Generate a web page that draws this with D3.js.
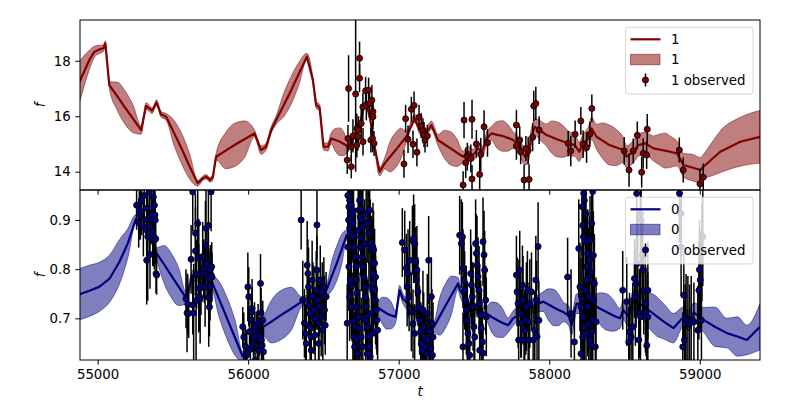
<!DOCTYPE html>
<html><head><meta charset="utf-8">
<script src="https://cdn.jsdelivr.net/npm/d3@7"></script>
<style>body{margin:0;background:#fff} text{font-family:"DejaVu Sans",sans-serif}</style>
</head><body><svg id="c" width="800" height="400"></svg>
<script>
// ---------- data ----------
const xTicks=[55000,56000,57000,58000,59000];
const topYTicks=[14,16,18];
const botYTicks=[0.7,0.8,0.9];
const topLabel="1", botLabel="0";

// model curve rows: [t, mean, half-width of band]
const topCurve=[[54880,17.24,0.75],[54945,18.03,0.35],[54978,18.32,0.2],[55011,18.41,0.15],[55038,18.45,0.12],[55051,18.62,0.1],[55078,17.12,0.12],[55129,16.73,0.5],[55180,16.33,0.6],[55235,15.91,0.5],[55289,15.50,0.15],[55322,16.37,0.12],[55362,16.20,0.1],[55392,16.49,0.1],[55421,16.07,0.1],[55455,15.98,0.12],[55508,15.40,0.45],[55560,14.81,0.55],[55612,14.18,0.45],[55665,13.58,0.1],[55698,13.76,0.08],[55721,13.82,0.08],[55747,13.70,0.08],[55765,13.80,0.1],[55787,14.54,0.12],[55851,14.76,0.65],[55915,14.98,0.78],[55978,15.18,0.65],[56042,15.38,0.12],[56086,14.78,0.15],[56119,14.90,0.12],[56153,15.50,0.12],[56186,15.86,0.15],[56236,16.40,0.42],[56286,16.94,0.5],[56338,17.55,0.4],[56390,18.15,0.12],[56430,17.30,0.12],[56452,16.40,0.12],[56474,16.32,0.12],[56501,14.90,0.12],[56530,14.90,0.15],[56552,15.20,0.2],[56581,15.14,0.42],[56610,15.08,0.5],[56636,15.00,0.42],[56663,14.90,0.15],[56707,15.32,0.12],[56740,15.62,0.12],[56762,16.22,0.12],[56785,16.46,0.12],[56812,15.86,0.12],[56840,14.90,0.12],[56873,14.00,0.15],[56907,14.30,0.2],[56943,14.54,0.55],[56980,14.78,0.63],[57015,15.02,0.55],[57051,15.26,0.2],[57106,15.92,0.15],[57139,15.50,0.15],[57172,15.32,0.15],[57217,15.68,0.15],[57261,15.14,0.2],[57303,14.99,0.5],[57345,14.84,0.6],[57386,14.69,0.5],[57428,14.54,0.2],[57461,14.72,0.2],[57494,14.60,0.2],[57527,14.84,0.2],[57556,14.72,0.2],[57583,15.20,0.22],[57616,15.38,0.25],[57653,15.33,0.48],[57690,15.29,0.55],[57725,15.22,0.48],[57760,15.14,0.3],[57804,14.90,0.3],[57838,14.54,0.3],[57858,14.60,0.3],[57882,15.26,0.3],[57904,15.62,0.3],[57937,15.50,0.35],[57982,15.32,0.4],[58016,15.25,0.58],[58050,15.17,0.63],[58088,15.10,0.58],[58126,15.02,0.45],[58170,14.96,0.4],[58199,14.72,0.35],[58226,15.02,0.35],[58259,15.20,0.4],[58281,15.56,0.4],[58314,15.26,0.45],[58357,15.11,0.65],[58400,14.96,0.72],[58446,14.87,0.65],[58492,14.78,0.45],[58514,14.54,0.4],[58559,14.72,0.4],[58592,14.96,0.4],[58637,15.02,0.4],[58692,14.84,0.45],[58731,14.80,0.55],[58770,14.76,0.63],[58809,14.71,0.55],[58848,14.66,0.45],[58892,14.24,0.42],[58950,14.15,0.48],[59003,14.06,0.45],[59025,14.18,0.45],[59080,14.45,0.6],[59136,14.72,0.75],[59269,15.08,0.88],[59400,15.26,0.95]];
const botCurve=[[54880,0.749,0.052],[54945,0.756,0.052],[55011,0.764,0.05],[55080,0.781,0.048],[55145,0.815,0.045],[55200,0.852,0.03],[55255,0.903,0.008],[55377,0.849,0.01],[55392,0.832,0.012],[55441,0.810,0.038],[55490,0.787,0.045],[55539,0.764,0.038],[55588,0.741,0.012],[55632,0.788,0.01],[55665,0.785,0.01],[55698,0.791,0.01],[55754,0.778,0.012],[55807,0.739,0.036],[55860,0.700,0.042],[55912,0.661,0.036],[55964,0.622,0.01],[56087,0.680,0.012],[56153,0.693,0.043],[56220,0.707,0.05],[56288,0.720,0.043],[56356,0.734,0.01],[56440,0.746,0.01],[56521,0.758,0.012],[56555,0.786,0.03],[56590,0.813,0.035],[56622,0.841,0.03],[56654,0.869,0.01],[56760,0.800,0.01],[56860,0.722,0.012],[56890,0.716,0.027],[56920,0.710,0.032],[56950,0.706,0.027],[56980,0.703,0.012],[57006,0.757,0.01],[57028,0.740,0.01],[57130,0.710,0.01],[57235,0.683,0.012],[57272,0.704,0.038],[57310,0.725,0.045],[57352,0.748,0.038],[57394,0.771,0.012],[57406,0.758,0.012],[57490,0.720,0.012],[57583,0.710,0.015],[57616,0.703,0.03],[57650,0.697,0.035],[57688,0.691,0.03],[57727,0.686,0.015],[57760,0.700,0.015],[57827,0.713,0.015],[57890,0.725,0.015],[57960,0.734,0.02],[57995,0.728,0.032],[58030,0.722,0.037],[58062,0.717,0.032],[58093,0.713,0.02],[58130,0.705,0.02],[58148,0.686,0.02],[58181,0.730,0.02],[58292,0.727,0.02],[58336,0.720,0.032],[58380,0.713,0.037],[58425,0.706,0.032],[58470,0.700,0.02],[58492,0.717,0.02],[58525,0.704,0.02],[58559,0.737,0.02],[58603,0.730,0.025],[58656,0.718,0.035],[58710,0.705,0.04],[58768,0.692,0.035],[58825,0.680,0.03],[58892,0.703,0.02],[58930,0.695,0.02],[58959,0.712,0.02],[59025,0.697,0.025],[59100,0.683,0.04],[59180,0.670,0.03],[59250,0.663,0.04],[59313,0.656,0.03],[59400,0.683,0.047]];

// observed [t, value, error]
const topObserved=[[56658,14.42,0.5],[56663,15.20,0.48],[56667,17.00,1.2],[56685,14.18,0.42],[56685,14.90,0.45],[56696,15.29,0.6],[56714,16.80,2.8],[56722,15.56,0.54],[56722,14.96,0.45],[56729,15.26,0.5],[56740,18.09,0.6],[56740,17.37,0.5],[56733,15.50,0.5],[56751,15.74,0.55],[56763,15.08,0.5],[56762,16.34,0.5],[56785,16.40,0.55],[56780,16.92,0.5],[56807,16.46,0.5],[56800,16.94,0.45],[56822,16.58,0.55],[56815,15.14,0.45],[56829,16.16,0.5],[56829,15.98,0.45],[56826,15.20,0.5],[56836,15.02,0.45],
[57035,14.28,0.5],[57046,15.91,0.5],[57062,15.17,0.5],[57084,16.25,0.45],[57102,16.39,0.5],[57095,14.99,0.5],[57121,14.70,0.5],[57135,15.96,0.45],[57150,15.66,0.45],[57161,15.48,0.45],[57168,15.34,0.45],[57175,15.14,0.45],[57190,15.29,0.4],
[57428,13.52,0.5],[57434,15.86,0.65],[57445,14.32,0.55],[57456,14.54,0.5],[57479,14.48,0.5],[57487,15.89,0.7],[57487,13.74,0.5],[57516,15.00,0.5],[57538,13.90,0.85],[57545,14.62,0.6],[57567,15.62,0.6],[57590,15.04,0.5],
[57782,15.68,0.55],[57782,14.93,0.5],[57804,15.14,0.5],[57810,14.72,0.45],[57833,13.70,0.55],[57866,13.72,0.55],[57860,14.76,0.5],[57890,15.24,0.5],[57897,16.37,0.55],[57911,16.46,0.6],[57933,15.50,0.5],[57845,14.84,0.45],
[58126,15.02,0.45],[58143,14.75,0.55],[58172,15.35,0.5],[58210,15.83,0.5],[58225,14.99,0.5],[58248,14.87,0.55],[58270,15.35,0.45],[58283,16.28,0.5],
[58498,14.75,0.5],[58530,14.06,0.6],[58558,14.75,0.45],[58585,15.31,0.5],[58614,13.98,0.55],[58624,14.66,0.55],[58647,14.60,0.5],[58651,15.53,0.55],
[58864,14.78,0.45],[58890,14.06,0.45],[59001,13.56,0.55],[59023,13.80,0.5]];

const botObsA=[[55259,0.930,0.05],[55277,0.920,0.06],[55273,0.894,0.05],[55293,0.939,0.07],[55284,0.910,0.05],[55304,0.886,0.06],[55326,0.924,0.06],[55326,0.901,0.05],[55333,0.866,0.13],[55344,0.886,0.05],[55355,0.913,0.06],[55361,0.900,0.05],[55366,0.876,0.07],[55370,0.947,0.05],[55372,0.866,0.06],[55377,0.930,0.06],[55381,0.910,0.05],[55383,0.900,0.05],[55377,0.859,0.06],[55326,0.818,0.09],[55348,0.830,0.07],[55386,0.862,0.05],[55388,0.791,0.04],[55392,0.788,0.04],[55310,0.950,0.06],[55344,0.957,0.08]];
const botObsB=[[55587,0.740,0.06],[55594,0.711,0.08],[55605,0.710,0.05],[55599,0.729,0.06],[55621,0.820,0.07],[55632,0.727,0.06],[55638,0.711,0.1],[55650,0.837,0.09],[55650,0.873,0.08],[55654,0.736,0.12],[55658,0.790,0.07],[55665,0.893,0.07],[55672,0.822,0.08],[55672,0.761,0.09],[55676,0.745,0.07],[55681,0.739,0.09],[55687,0.767,0.06],[55698,0.826,0.07],[55705,0.801,0.06],[55709,0.791,0.06],[55714,0.763,0.08],[55716,0.849,0.09],[55720,0.883,0.08],[55727,0.811,0.07],[55732,0.781,0.06],[55736,0.889,0.07],[55738,0.742,0.1],[55743,0.723,0.06],[55747,0.765,0.07],[55749,0.799,0.05],[55754,0.788,0.06],[55758,0.805,0.05],[55760,0.784,0.05],[55632,0.957,0.08],[55754,0.957,0.08]];
const botObsC=[[55964,0.683,0.04],[55971,0.662,0.05],[55982,0.643,0.04],[55991,0.625,0.05],[55998,0.764,0.07],[56004,0.744,0.06],[56009,0.673,0.05],[56015,0.637,0.04],[56020,0.696,0.05],[56026,0.720,0.06],[56026,0.713,0.05],[56035,0.662,0.04],[56037,0.649,0.05],[56042,0.683,0.05],[56046,0.615,0.04],[56053,0.673,0.04],[56060,0.666,0.05],[56066,0.689,0.04],[56071,0.635,0.05],[56075,0.664,0.04],[56082,0.771,0.06],[56086,0.711,0.05],[56088,0.656,0.04],[56093,0.645,0.05],[56097,0.696,0.04],[56102,0.632,0.05]];
const botObsD=[[56352,0.900,0.06],[56457,0.890,0.07],[56363,0.737,0.08],[56374,0.690,0.07],[56381,0.669,0.06],[56386,0.649,0.08],[56392,0.808,0.09],[56397,0.791,0.07],[56401,0.764,0.08],[56403,0.727,0.06],[56408,0.710,0.07],[56412,0.683,0.08],[56417,0.662,0.07],[56419,0.635,0.06],[56425,0.778,0.08],[56430,0.744,0.07],[56437,0.717,0.09],[56441,0.700,0.06],[56445,0.666,0.07],[56452,0.757,0.08],[56457,0.798,0.07],[56463,0.737,0.06],[56468,0.690,0.08],[56470,0.649,0.07],[56474,0.724,0.06],[56479,0.778,0.07],[56485,0.703,0.08],[56492,0.754,0.06],[56496,0.676,0.07],[56503,0.764,0.06],[56507,0.717,0.07],[56512,0.686,0.06],[56518,0.744,0.05]];
const botObsE=[[56662,0.950,0.08],[56674,0.940,0.1],[56669,0.927,0.07],[56678,0.913,0.09],[56685,0.930,0.08],[56667,0.900,0.1],[56674,0.883,0.08],[56680,0.873,0.09],[56691,0.906,0.07],[56696,0.920,0.1],[56658,0.690,0.08],[56674,0.744,0.09],[56696,0.893,0.08],[56700,0.866,0.1],[56707,0.845,0.08],[56713,0.825,0.09],[56718,0.805,0.07],[56662,0.845,0.1],[56669,0.805,0.09],[56678,0.778,0.08],[56685,0.764,0.1],[56691,0.723,0.07],[56696,0.696,0.09],[56702,0.662,0.08],[56707,0.642,0.07],[56718,0.778,0.09],[56722,0.751,0.08],[56727,0.723,0.1],[56713,0.683,0.08],[56722,0.656,0.07],[56729,0.628,0.06],[56731,0.879,0.09],[56736,0.920,0.08],[56740,0.940,0.1],[56744,0.906,0.07],[56751,0.923,0.09],[56758,0.900,0.08],[56762,0.886,0.1],[56747,0.866,0.08],[56751,0.845,0.09],[56758,0.825,0.07],[56762,0.805,0.1],[56769,0.784,0.08],[56773,0.764,0.09],[56780,0.744,0.08],[56784,0.723,0.1],[56789,0.703,0.07],[56795,0.683,0.09],[56802,0.662,0.08],[56807,0.642,0.07],[56811,0.622,0.06],[56784,0.913,0.09],[56795,0.893,0.08],[56802,0.873,0.1],[56807,0.920,0.08],[56811,0.852,0.09],[56818,0.839,0.07],[56824,0.812,0.09],[56829,0.791,0.08],[56833,0.771,0.1],[56840,0.757,0.07],[56846,0.737,0.09],[56851,0.717,0.08],[56855,0.696,0.07],[56860,0.676,0.06],[56818,0.710,0.09],[56824,0.669,0.08],[56829,0.845,0.09],[56833,0.839,0.08],[56840,0.812,0.07],[56846,0.784,0.06],[56773,0.852,0.09],[56780,0.696,0.08],[56791,0.628,0.07],[56751,0.662,0.08],[56762,0.642,0.07],[56736,0.703,0.09],[56742,0.679,0.08]];
const botObsF=[[57024,0.854,0.07],[57040,0.839,0.08],[57051,0.802,0.07],[57062,0.791,0.09],[57073,0.818,0.08],[57091,0.859,0.07],[57099,0.862,0.09],[57106,0.852,0.08],[57113,0.815,0.07],[57117,0.778,0.08],[57121,0.798,0.09],[57128,0.754,0.07],[57135,0.723,0.08],[57139,0.696,0.07],[57146,0.673,0.06],[57150,0.649,0.07],[57157,0.635,0.06],[57161,0.717,0.08],[57166,0.683,0.07],[57173,0.662,0.06],[57179,0.642,0.07],[57184,0.628,0.06],[57190,0.710,0.08],[57195,0.656,0.07],[57199,0.818,0.09],[57206,0.673,0.07],[57213,0.639,0.06],[57217,0.744,0.08],[57221,0.689,0.07],[57224,0.625,0.06],[57228,0.662,0.07],[57056,0.764,0.08],[57069,0.744,0.07],[57084,0.713,0.08],[57095,0.689,0.07],[57106,0.669,0.06]];
const botObsG=[[57405,0.869,0.08],[57416,0.852,0.09],[57423,0.866,0.07],[57427,0.801,0.08],[57434,0.778,0.09],[57438,0.757,0.08],[57445,0.737,0.07],[57449,0.717,0.09],[57456,0.696,0.08],[57460,0.669,0.07],[57467,0.649,0.08],[57472,0.625,0.07],[57478,0.791,0.09],[57483,0.768,0.08],[57489,0.744,0.07],[57494,0.724,0.09],[57500,0.683,0.08],[57505,0.662,0.07],[57511,0.852,0.09],[57516,0.832,0.08],[57520,0.808,0.1],[57527,0.785,0.08],[57534,0.757,0.09],[57538,0.730,0.08],[57545,0.707,0.07],[57549,0.679,0.08],[57556,0.652,0.07],[57560,0.629,0.06],[57567,0.829,0.09],[57571,0.798,0.08],[57578,0.737,0.07],[57582,0.703,0.08],[57560,0.856,0.09],[57427,0.642,0.07],[57538,0.635,0.06]];
const botObsH=[[57782,0.788,0.08],[57786,0.754,0.07],[57793,0.730,0.09],[57797,0.656,0.07],[57804,0.798,0.08],[57811,0.710,0.09],[57815,0.690,0.07],[57822,0.768,0.08],[57826,0.737,0.09],[57833,0.656,0.07],[57837,0.676,0.08],[57844,0.696,0.07],[57848,0.724,0.09],[57855,0.757,0.08],[57860,0.656,0.07],[57866,0.693,0.08],[57871,0.730,0.09],[57882,0.754,0.08],[57893,0.656,0.07],[57904,0.676,0.08],[57911,0.778,0.09],[57915,0.737,0.08],[57919,0.663,0.07],[57926,0.846,0.09],[57931,0.696,0.08]];
const botObsI=[[58122,0.784,0.08],[58145,0.710,0.09],[58167,0.652,0.07],[58196,0.842,0.1],[58204,0.764,0.09],[58218,0.927,0.1],[58222,0.889,0.09],[58227,0.866,0.1],[58233,0.940,0.09],[58240,0.856,0.1],[58244,0.913,0.09],[58249,0.805,0.1],[58255,0.832,0.09],[58260,0.784,0.1],[58267,0.818,0.09],[58267,0.744,0.1],[58271,0.859,0.09],[58278,0.795,0.1],[58282,0.893,0.09],[58289,0.696,0.1],[58293,0.828,0.09],[58300,0.771,0.1],[58306,0.642,0.08],[58311,0.693,0.09],[58211,0.628,0.08],[58222,0.662,0.09],[58233,0.683,0.1],[58244,0.669,0.09],[58255,0.723,0.1],[58262,0.689,0.09],[58271,0.656,0.08],[58278,0.645,0.09],[58284,0.673,0.1],[58293,0.737,0.09],[58218,0.740,0.1],[58227,0.703,0.09],[58240,0.757,0.1],[58251,0.778,0.09],[58211,0.723,0.1],[58229,0.954,0.1],[58289,0.958,0.1]];
const botObsJ=[[58488,0.757,0.08],[58515,0.734,0.09],[58528,0.652,0.07],[58544,0.662,0.08],[58555,0.683,0.09],[58566,0.781,0.08],[58572,0.744,0.1],[58577,0.771,0.09],[58588,0.812,0.1],[58595,0.656,0.08],[58599,0.710,0.09],[58606,0.703,0.1],[58610,0.900,0.1],[58617,0.828,0.09],[58621,0.798,0.1],[58628,0.757,0.09],[58639,0.730,0.1],[58643,0.713,0.09],[58648,0.645,0.08],[58655,0.703,0.09],[58655,0.757,0.1],[58606,0.913,0.1],[58533,0.672,0.08],[58581,0.954,0.1]];
const botObsK=[[58876,0.913,0.09],[58876,0.845,0.1],[58894,0.747,0.09],[58903,0.689,0.08],[58909,0.700,0.09],[58898,0.656,0.08],[58887,0.642,0.07],[58921,0.696,0.09],[58932,0.689,0.08],[58943,0.696,0.09],[58961,0.693,0.08],[58987,0.676,0.09],[58994,0.757,0.1],[58998,0.799,0.1],[59003,0.778,0.1],[59011,0.696,0.09],[59020,0.866,0.1],[59014,0.835,0.1],[58865,0.954,0.1]];
const botObserved=[].concat(botObsA,botObsB,botObsC,botObsD,botObsE,botObsF,botObsG,botObsH,botObsI,botObsJ,botObsK);

// ---------- drawing ----------
const svg=d3.select('#c');
const L=80,R=760,T1=20,B1=190,T2=190,B2=360;
const FS=13.33, TK=4.67;
const x=d3.scaleLinear().domain([54883,59400]).range([L,R]);
const yTop=d3.scaleLinear().domain([13.34,19.47]).range([B1,T1]);
const yBot=d3.scaleLinear().domain([0.6153,0.961]).range([B2,T2]);

function panel(id,y,top,bottom,rows,obs,color,yt,fmt,showX,label){
  const g=svg.append('g');
  g.append('clipPath').attr('id',id).append('rect').attr('x',L).attr('y',top).attr('width',R-L).attr('height',bottom-top);
  const d=g.append('g').attr('clip-path',`url(#${id})`);
  d.append('path').datum(rows)
    .attr('d',d3.area().x(r=>x(r[0])).y0(r=>y(r[1]-r[2])).y1(r=>y(r[1]+r[2])).curve(d3.curveMonotoneX))
    .attr('fill',color).attr('fill-opacity',0.5).attr('stroke',color).attr('stroke-opacity',0.5).attr('stroke-width',1);
  d.append('path').datum(rows)
    .attr('d',d3.line().x(r=>x(r[0])).y(r=>y(r[1])))
    .attr('fill','none').attr('stroke',color).attr('stroke-width',2.2).attr('stroke-linejoin','round');
  d.append('g').selectAll('line').data(obs).join('line')
    .attr('x1',o=>x(o[0])).attr('x2',o=>x(o[0]))
    .attr('y1',o=>y(o[1]-o[2])).attr('y2',o=>y(o[1]+o[2]))
    .attr('stroke','#000').attr('stroke-width',1.5);
  d.append('g').selectAll('circle').data(obs).join('circle')
    .attr('cx',o=>x(o[0])).attr('cy',o=>y(o[1])).attr('r',3)
    .attr('fill',color).attr('stroke','#000').attr('stroke-width',0.9);
  const ya=g.append('g').attr('transform',`translate(${L},0)`)
    .call(d3.axisLeft(y).tickValues(yt).tickFormat(fmt).tickSize(TK).tickPadding(TK));
  const xa=g.append('g').attr('transform',`translate(0,${bottom})`)
    .call(d3.axisBottom(x).tickValues(xTicks).tickFormat(showX?d3.format('d'):'').tickSize(TK).tickPadding(TK));
  [ya,xa].forEach(a=>{a.select('.domain').remove();
    a.selectAll('.tick line').attr('stroke','#000').attr('stroke-width',1);
    a.selectAll('text').attr('font-size',FS).attr('fill','#000').attr('font-family','DejaVu Sans');});
  g.append('rect').attr('x',L).attr('y',top).attr('width',R-L).attr('height',bottom-top)
    .attr('fill','none').attr('stroke','#000').attr('stroke-width',1);
  g.append('text').attr('transform',`translate(40,${(top+bottom)/2}) rotate(-90)`)
    .attr('text-anchor','middle').attr('dominant-baseline','central')
    .attr('font-size',FS).attr('font-style','italic').text('f');
  const lg=g.append('g').attr('transform',`translate(0,${top})`);
  lg.append('rect').attr('x',625.5).attr('y',7.3).attr('width',127.5).attr('height',66.7).attr('rx',2.5)
    .attr('fill','#fff').attr('fill-opacity',0.8).attr('stroke','#ccc').attr('stroke-opacity',0.8).attr('stroke-width',1);
  lg.append('line').attr('x1',630.5).attr('x2',660.5).attr('y1',19.3).attr('y2',19.3).attr('stroke',color).attr('stroke-width',2.2);
  lg.append('rect').attr('x',630.5).attr('y',34.3).attr('width',29.5).attr('height',10.5)
    .attr('fill',color).attr('fill-opacity',0.5).attr('stroke',color).attr('stroke-opacity',0.5);
  lg.append('line').attr('x1',645.5).attr('x2',645.5).attr('y1',53.5).attr('y2',66.5).attr('stroke','#000').attr('stroke-width',1.5);
  lg.append('circle').attr('cx',645.5).attr('cy',60).attr('r',3).attr('fill',color).attr('stroke','#000').attr('stroke-width',0.9);
  [[19.3,label],[39.6,label],[60,label+' observed']].forEach(([yy,s])=>{
    lg.append('text').attr('x',671).attr('y',yy).attr('dy','0.35em').attr('font-size',FS).attr('fill','#000').text(s);
  });
}
panel('c1',yTop,T1,B1,topCurve,topObserved,'#800000',topYTicks,d3.format('d'),false,topLabel);
panel('c2',yBot,T2,B2,botCurve,botObserved,'#000080',botYTicks,d3.format('.1f'),true,botLabel);
svg.append('text').attr('x',420).attr('y',391).attr('text-anchor','middle').attr('dominant-baseline','central')
  .attr('font-size',FS).attr('font-style','italic').text('t');
</script></body></html>
